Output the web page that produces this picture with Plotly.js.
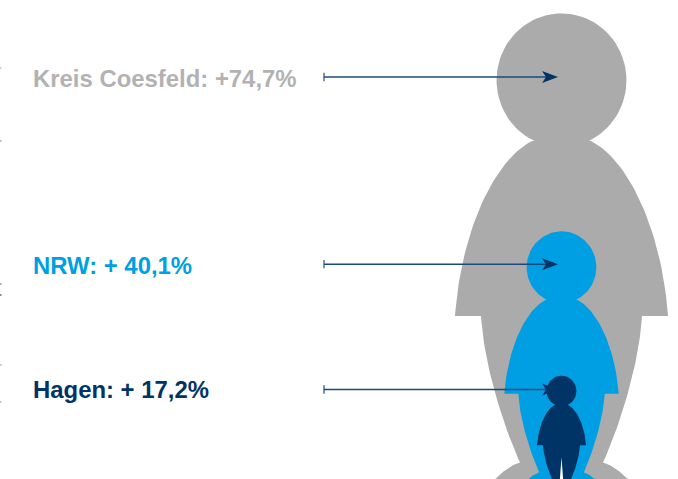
<!DOCTYPE html>
<html>
<head>
<meta charset="utf-8">
<script src="https://cdn.plot.ly/plotly-3.0.1.min.js"></script>
<style>html,body{margin:0;padding:0;background:#fff}#chart{width:678px;height:479px}</style>
</head>
<body>
<div id="chart"></div>
<script>
// Population growth by region; each figure's height equals its percentage.
const regions = ['Kreis Coesfeld', 'NRW', 'Hagen'];
const growth = [74.7, 40.1, 17.2];
const growthLabels = ['+74,7%', '+ 40,1%', '+ 17,2%'];
const colors = ['#ABABAB', '#009FE3', '#003366'];
const labelColors = ['#B2B2B2', '#009FE3', '#003366'];

// Arrow and label heights on the percent axis, one per figure.
const arrowLevels = [64.6, 34.9, 15.0];
const labelLevels = [64.35, 34.7, 15.0];

// Right half of the silhouette as cubic curves, in fractions of the figure height.
const shoulder = [[.0627,.7289],[.1434,.6885],[.2136,.5355],[.2263,.3570]];
const leg = [[.1711,.3570],[.1647,.2529],[.1243,.1254],[.0882,.0457]];
const foot = [[.0882,.0457],[.1094,.0404],[.1307,.0212],[.1519,0]];
const crotch = [[.0180,0],[0,.2480]];
const headCentre = .858, headRx = .138, headRy = .142;

// Arrowhead outline in page pixels, relative to the tip.
const arrowHead = [[0,0],[-16,-6],[-12,0],[-16,6],[0,0]];

// Short clipped tick stubs along the left page edge.
const edgeStubY = [68, 141, 284, 295, 365, 402];
const edgeStubColors = ['#D0D0D0', '#BBBBBB', '#AAAAAA', '#888888', '#C4C4C4', '#C4C4C4'];

// Drawing scale: pixels per percentage point and the page position of the axes' origin.
const pxPerPercent = 6.3, originX = 561.5, originY = 484, W = 678, H = 479;

function bezier(c) {
  const out = [];
  for (let k = 0; k <= 40; k++) {
    const t = k / 40, s = 1 - t;
    out.push([0, 1].map(j => s*s*s*c[0][j] + 3*s*s*t*c[1][j] + 3*s*t*t*c[2][j] + t*t*t*c[3][j]));
  }
  return out;
}

const half = [...bezier(shoulder), ...bezier(leg), ...bezier(foot), ...crotch];
const body = [...half, ...half.slice(0, -1).reverse().map(p => [-p[0], p[1]])];
const head = [];
for (let i = 0; i <= 96; i++) {
  const a = -i / 96 * 2 * Math.PI;
  head.push([headRx * Math.cos(a), headCentre + headRy * Math.sin(a)]);
}

const figures = regions.map((name, i) => {
  const h = growth[i];
  const pts = [...head, [null, null], ...body];
  return {
    type: 'scatter', mode: 'lines', name, fill: 'toself', fillcolor: colors[i],
    line: {width: 0, color: colors[i]}, hoverinfo: 'name',
    x: pts.map(p => p[0] === null ? null : p[0] * h),
    y: pts.map(p => p[1] === null ? null : p[1] * h)
  };
});

const toX = px => (px - originX) / pxPerPercent;
const toLevel = py => (originY - py) / pxPerPercent;
const tailX = toX(324), tipX = toX(558), shaftEndX = toX(546);

const tails = {
  type: 'scatter', mode: 'markers', hoverinfo: 'skip',
  x: regions.map(() => tailX), y: arrowLevels,
  marker: {symbol: 'line-ns', size: 6, line: {width: 1.2, color: '#1F4E80'}}
};

const shafts = regions.map((_, i) => ({
  type: 'scatter', mode: 'lines', hoverinfo: 'skip',
  x: [tailX, shaftEndX], y: [arrowLevels[i], arrowLevels[i]],
  line: {width: 1.5, color: '#1A4A7C'}
}));

const heads = regions.map((_, i) => ({
  type: 'scatter', mode: 'lines', hoverinfo: 'skip', fill: 'toself', fillcolor: '#003366',
  line: {width: 0, color: '#003366'},
  x: arrowHead.map(p => tipX + p[0] / pxPerPercent),
  y: arrowHead.map(p => arrowLevels[i] + p[1] / pxPerPercent)
}));

const edgeStubs = {
  type: 'scatter', mode: 'markers', hoverinfo: 'skip', cliponaxis: false,
  x: edgeStubY.map(() => toX(0.5)), y: edgeStubY.map(toLevel),
  marker: {symbol: 'square', size: 2, color: edgeStubColors, line: {width: 0}}
};

const labels = regions.map((name, i) => ({
  x: toX(30.5), y: labelLevels[i], xref: 'x', yref: 'y', xanchor: 'left', yanchor: 'middle',
  text: name + ': ' + growthLabels[i], showarrow: false,
  font: {family: '"Liberation Sans", Arial, sans-serif', size: 23.9, weight: 700, color: labelColors[i]}
}));

Plotly.newPlot('chart', [...figures, tails, ...shafts, ...heads, edgeStubs], {
  width: W, height: H,
  margin: {l: 0, r: 0, t: 0, b: 0},
  paper_bgcolor: '#fff', plot_bgcolor: '#fff',
  showlegend: false,
  xaxis: {range: [toX(0), toX(W)], visible: false, fixedrange: true},
  yaxis: {range: [(originY - H) / pxPerPercent, originY / pxPerPercent], visible: false, fixedrange: true},
  annotations: labels
}, {staticPlot: true, displayModeBar: false});
</script>
</body>
</html>
